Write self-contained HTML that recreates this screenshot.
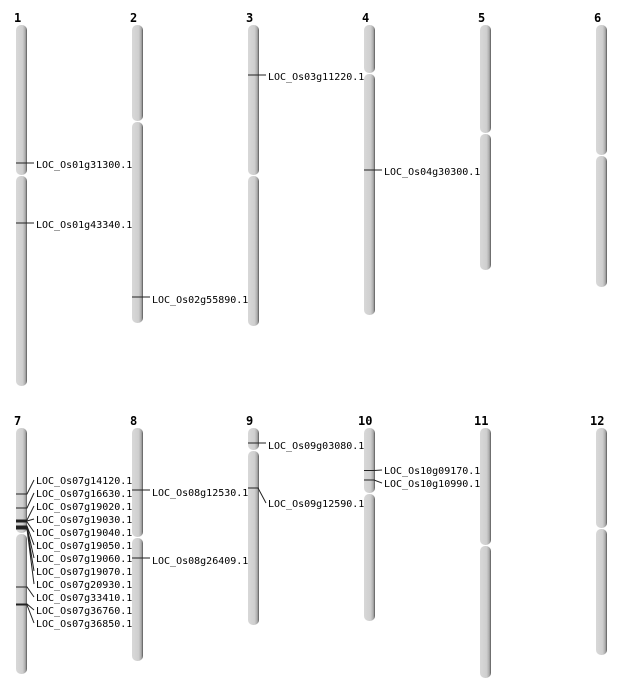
<!DOCTYPE html>
<html><head><meta charset="utf-8"><style>
body{margin:0;background:#fff}
svg{display:block}
.n{font-family:"DejaVu Sans Mono","Liberation Mono",monospace;font-size:12px;font-weight:bold}
.l{font-family:"DejaVu Sans Mono","Liberation Mono",monospace;font-size:10px}
</style></head><body>
<svg width="634" height="700" xmlns="http://www.w3.org/2000/svg">
<defs>
<linearGradient id="g" x1="0" x2="1" y1="0" y2="0">
<stop offset="0" stop-color="#d8d8d8"/><stop offset="0.6" stop-color="#cfcfcf"/><stop offset="0.85" stop-color="#aaa"/><stop offset="1" stop-color="#555"/>
</linearGradient>
</defs>
<g fill="url(#g)">
<!-- chr1 -->
<rect x="16" y="25" width="11" height="150" rx="5"/><rect x="16" y="176" width="11" height="210" rx="5"/>
<rect x="132" y="25" width="11" height="96" rx="5"/><rect x="132" y="122" width="11" height="201" rx="5"/>
<rect x="248" y="25" width="11" height="150" rx="5"/><rect x="248" y="176" width="11" height="150" rx="5"/>
<rect x="364" y="25" width="11" height="48" rx="5"/><rect x="364" y="74" width="11" height="241" rx="5"/>
<rect x="480" y="25" width="11" height="108" rx="5"/><rect x="480" y="134" width="11" height="136" rx="5"/>
<rect x="596" y="25" width="11" height="130" rx="5"/><rect x="596" y="156" width="11" height="131" rx="5"/>
<rect x="16" y="428" width="11" height="105" rx="5"/><rect x="16" y="534" width="11" height="140" rx="5"/>
<rect x="132" y="428" width="11" height="109" rx="5"/><rect x="132" y="538" width="11" height="123" rx="5"/>
<rect x="248" y="428" width="11" height="22" rx="5"/><rect x="248" y="451" width="11" height="174" rx="5"/>
<rect x="364" y="428" width="11" height="65" rx="5"/><rect x="364" y="494" width="11" height="127" rx="5"/>
<rect x="480" y="428" width="11" height="117" rx="5"/><rect x="480" y="546" width="11" height="132" rx="5"/>
<rect x="596" y="428" width="11" height="100" rx="5"/><rect x="596" y="529" width="11" height="126" rx="5"/>
</g>
<g class="n">
<text x="14" y="22">1</text><text x="130" y="22">2</text><text x="246" y="22">3</text><text x="362" y="22">4</text><text x="478" y="22">5</text><text x="594" y="22">6</text>
<text x="14" y="425">7</text><text x="130" y="425">8</text><text x="246" y="425">9</text><text x="358" y="425">10</text><text x="474" y="425">11</text><text x="590" y="425">12</text>
</g>
<g stroke="#222" stroke-width="1" fill="none">
<path d="M16 163H34M16 223H34M132 297H150M248 75H266M364 170H382"/>
<path d="M132 490H150M132 558H150M248 443H266M248 488H258L266 503M364 470.5H374L382 470M364 480H374L382 483"/>
<path d="M16 494H27L34 480M16 508H27L34 493M16 520H27L34 506M16 521H27L34 519M16 522H27L34 532M16 526H27L34 545M16 527H27L34 558M16 528H27L34 571M16 529H27L34 584M16 587H27L34 597M16 604H27L34 610M16 605H27L34 623"/>
</g>
<g class="l" fill="#000">
<text x="36" y="168">LOC_Os01g31300.1</text>
<text x="36" y="228">LOC_Os01g43340.1</text>
<text x="152" y="303">LOC_Os02g55890.1</text>
<text x="268" y="80">LOC_Os03g11220.1</text>
<text x="384" y="175">LOC_Os04g30300.1</text>
<text x="36" y="484">LOC_Os07g14120.1</text>
<text x="36" y="497">LOC_Os07g16630.1</text>
<text x="36" y="510">LOC_Os07g19020.1</text>
<text x="36" y="523">LOC_Os07g19030.1</text>
<text x="36" y="536">LOC_Os07g19040.1</text>
<text x="36" y="549">LOC_Os07g19050.1</text>
<text x="36" y="562">LOC_Os07g19060.1</text>
<text x="36" y="575">LOC_Os07g19070.1</text>
<text x="36" y="588">LOC_Os07g20930.1</text>
<text x="36" y="601">LOC_Os07g33410.1</text>
<text x="36" y="614">LOC_Os07g36760.1</text>
<text x="36" y="627">LOC_Os07g36850.1</text>
<text x="152" y="496">LOC_Os08g12530.1</text>
<text x="152" y="564">LOC_Os08g26409.1</text>
<text x="268" y="449">LOC_Os09g03080.1</text>
<text x="268" y="507">LOC_Os09g12590.1</text>
<text x="384" y="474">LOC_Os10g09170.1</text>
<text x="384" y="487">LOC_Os10g10990.1</text>
</g>
</svg>
</body></html>
